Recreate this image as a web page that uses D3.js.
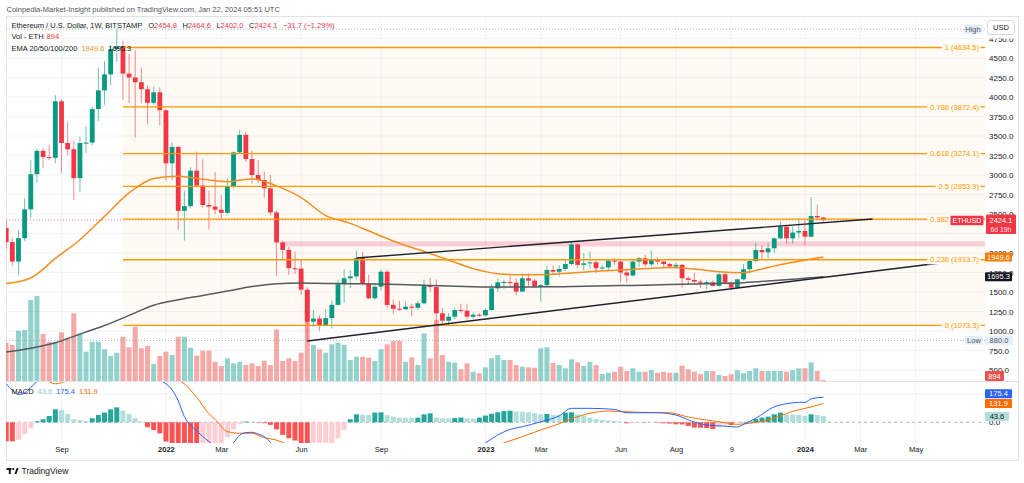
<!DOCTYPE html>
<html>
<head>
<meta charset="utf-8">
<title>ETHUSD 1W</title>
<script src="https://cdn.jsdelivr.net/npm/d3@7/dist/d3.min.js"></script>
<style>
  html, body { margin: 0; padding: 0; background: #ffffff; }
  svg { display: block; }
  text { font-family: "Liberation Sans", Arial, sans-serif; }
</style>
</head>
<body>
<svg id="chart" width="1024" height="483"></svg>
<script>
// ---------- data ----------
// weekly bars, the first one opens on Monday 2021-07-05
const FIRST_WEEK = "2021-07-05";

const opens = [
  2320, 2140, 1890, 2190, 2560, 3010, 3310, 3230, 3220, 3945,
  3410, 3330, 2960, 3410, 3415, 3845, 4085, 4290, 4615, 4650,
  4300, 4250, 4190, 4100, 3925, 4060, 3830, 3150, 3360, 2540,
  2600, 3055, 2865, 2615, 2595, 2555, 2515, 2850, 3290, 3515,
  3205, 3000, 2935, 2830, 2520, 2135, 2040, 1805, 1800, 1530,
  1120, 1160, 1075, 1165, 1335, 1600, 1676, 1700, 1935, 1605,
  1420, 1568, 1760, 1335, 1285, 1280, 1312, 1298, 1355, 1582,
  1565, 1227, 1132, 1183, 1269, 1260, 1183, 1209, 1200, 1269,
  1547, 1624, 1628, 1620, 1505, 1676, 1645, 1568, 1588, 1782,
  1760, 1795, 1858, 2110, 1848, 1868, 1880, 1805, 1815, 1902,
  1890, 1750, 1712, 1890, 1932, 1855, 1920, 1890, 1858, 1828,
  1848, 1676, 1655, 1633, 1620, 1626, 1578, 1727, 1620, 1556,
  1663, 1792, 1897, 2038, 2009, 2060, 2188, 2337, 2188, 2262,
  2282, 2209, 2474, 2454.8
];
const highs = [
  2410, 2190, 2290, 2700, 3190, 3335, 3340, 3385, 4025, 3970,
  3680, 3440, 3490, 3620, 3880, 4375, 4460, 4665, 4870, 4720,
  4550, 4600, 4380, 4150, 4130, 4120, 3840, 3420, 3370, 2800,
  3100, 3300, 3200, 2800, 3040, 2740, 2960, 3300, 3580, 3555,
  3310, 3190, 3040, 3000, 2540, 2160, 2080, 2020, 1920, 1560,
  1270, 1200, 1280, 1390, 1660, 1790, 1780, 2030, 2015, 1720,
  1620, 1790, 1790, 1400, 1390, 1380, 1350, 1380, 1660, 1680,
  1660, 1290, 1230, 1300, 1350, 1350, 1240, 1230, 1290, 1600,
  1670, 1660, 1710, 1680, 1740, 1740, 1670, 1600, 1840, 1840,
  1840, 1920, 2140, 2125, 2000, 2020, 1900, 1850, 1920, 1930,
  1900, 1780, 1920, 1950, 1980, 2030, 1945, 1895, 1880, 1880,
  1860, 1700, 1745, 1660, 1650, 1650, 1750, 1750, 1630, 1670,
  1860, 1910, 2130, 2100, 2130, 2200, 2402, 2340, 2340, 2445,
  2420, 2720, 2615, 2464.6
];
const lows = [
  2050, 1840, 1720, 2150, 2450, 2900, 3090, 3190, 3150, 3030,
  3250, 2680, 2780, 3280, 3380, 3690, 3900, 4150, 4450, 3960,
  3920, 3480, 3920, 3650, 3900, 3640, 2930, 2930, 2300, 2160,
  2580, 2850, 2580, 2300, 2500, 2440, 2500, 2830, 3270, 3170,
  2890, 2900, 2710, 2480, 1705, 1900, 1720, 1730, 1460, 880,
  1050, 1000, 1070, 1030, 1330, 1360, 1550, 1660, 1580, 1410,
  1400, 1520, 1290, 1220, 1260, 1270, 1190, 1270, 1340, 1500,
  1070, 1100, 1070, 1150, 1230, 1150, 1160, 1180, 1190, 1260,
  1500, 1540, 1560, 1460, 1500, 1580, 1550, 1377, 1560, 1720,
  1700, 1770, 1840, 1800, 1780, 1800, 1740, 1780, 1780, 1850,
  1630, 1620, 1700, 1820, 1820, 1830, 1850, 1820, 1800, 1800,
  1550, 1600, 1610, 1550, 1530, 1570, 1570, 1600, 1520, 1540,
  1650, 1740, 1880, 1930, 1930, 2000, 2180, 2120, 2120, 2190,
  2100, 2200, 2420, 2402.0
];
const closes = [
  2140, 1890, 2190, 2560, 3010, 3310, 3230, 3220, 3945, 3410,
  3330, 2960, 3410, 3415, 3845, 4085, 4290, 4615, 4650, 4300,
  4250, 4190, 4100, 3925, 4060, 3830, 3150, 3360, 2540, 2600,
  3055, 2865, 2615, 2595, 2555, 2515, 2850, 3290, 3515, 3205,
  3000, 2935, 2830, 2520, 2135, 2040, 1805, 1800, 1530, 1120,
  1160, 1075, 1165, 1335, 1600, 1676, 1700, 1935, 1605, 1420,
  1568, 1760, 1335, 1285, 1280, 1312, 1298, 1355, 1582, 1565,
  1227, 1132, 1183, 1269, 1260, 1183, 1209, 1200, 1269, 1547,
  1624, 1628, 1620, 1505, 1676, 1645, 1568, 1588, 1782, 1760,
  1795, 1858, 2110, 1848, 1868, 1880, 1805, 1815, 1902, 1890,
  1750, 1712, 1890, 1932, 1855, 1920, 1890, 1858, 1828, 1848,
  1676, 1655, 1633, 1620, 1626, 1578, 1727, 1620, 1556, 1663,
  1792, 1897, 2038, 2009, 2060, 2188, 2337, 2188, 2262, 2282,
  2209, 2474, 2455.8, 2424.1
];
// volume, thousands of ETH
const volumes = [
  199, 187, 262, 265, 421, 442, 244, 204, 204, 253,
  222, 352, 248, 152, 204, 204, 165, 130, 147, 230,
  175, 282, 170, 182, 88, 130, 152, 135, 230, 230,
  173, 132, 158, 158, 100, 78, 118, 92, 100, 83,
  92, 78, 106, 83, 268, 104, 118, 104, 147, 473,
  187, 165, 147, 191, 199, 187, 109, 126, 126, 121,
  104, 165, 191, 208, 208, 100, 123, 83, 248, 118,
  317, 135, 100, 95, 61, 92, 48, 40, 71, 118,
  135, 109, 109, 83, 74, 71, 69, 170, 175, 94,
  83, 66, 113, 97, 78, 100, 83, 36, 43, 48,
  74, 52, 66, 48, 48, 57, 43, 48, 43, 43,
  80, 61, 48, 36, 52, 52, 31, 26, 35, 57,
  40, 52, 66, 52, 52, 52, 52, 48, 57, 66,
  66, 97, 52, 0.894
];
// MACD histogram, one value per week
const macdHist = [
  -133, -133, -124, -82, -42, 7, 21, 44, 91, 86,
  58, 21, 16, 9, 28, 51, 68, 91, 105, 82,
  58, 28, 5, -35, -54, -77, -135, -165, -198, -215,
  -222, -222, -205, -190, -176, -150, -105, -50, -12, 5,
  4, -3, -6, -18, -50, -88, -112, -128, -150, -185,
  -175, -165, -150, -145, -112, -54, 21, 56, 54, 51,
  68, 70, 51, 40, 33, 33, 32, 33, 56, 63,
  33, 28, 27, 30, 33, 28, 26, 33, 47, 60,
  70, 79, 82, 75, 74, 70, 63, 56, 58, 51,
  50, 68, 70, 56, 44, 33, 23, 16, 12, 9,
  3, -7, -4, -2, -2, -1, -3, -7, -9, -14,
  -15, -26, -37, -38, -40, -47, -30, -17, -19, -5,
  3, 5, 23, 33, 40, 56, 68, 56, 55, 51,
  44, 56, 51, 43.6
];
// MACD line, read at these week indexes
const macdWeeks = [0, 1, 2, 3, 4, 6, 8, 12, 16, 20, 23, 25, 26, 27, 28, 29, 30, 31, 32, 33,
  35, 37, 38, 39, 40, 41, 42, 43, 44, 46, 48, 50, 52, 54, 56, 58, 60, 62, 64, 66,
  68, 70, 72, 74, 76, 78, 80, 82, 84, 87, 90, 92, 95, 99, 101, 106, 109, 112, 114, 117,
  119, 120, 122, 125, 127, 129, 130, 131, 133];
const macdValues = [270, 225, 195, 205, 245, 320, 360, 400, 430, 450, 380, 300, 270, 227, 150, 40, -20, -60, -100, -135,
  -185, -143, -90, -72, -70, -82, -100, -140, -175, -240, -290, -360, -380, -360, -330, -300, -300, -295, -300, -290,
  -255, -240, -235, -215, -185, -145, -89, -50, -31, 4, 45, 98, 98, 90, 67, 67, 51, 2, -19, -27,
  -33, -14, 28, 109, 130, 140, 140, 165, 175.4];
// signal line
const signalWeeks = [0, 2, 4, 6, 8, 10, 12, 16, 20, 24, 26, 27, 28, 29, 31, 33, 34, 36, 38, 40,
  42, 44, 46, 48, 50, 52, 54, 56, 58, 60, 62, 64, 66, 68, 70, 72, 74, 76, 78, 80,
  82, 84, 87, 90, 92, 95, 98, 103, 108, 111, 114, 117, 119, 121, 124, 128, 130, 131, 133];
const signalValues = [400, 320, 288, 298, 270, 300, 385, 365, 392, 385, 390, 350, 300, 270, 175, 60, 20, -65, -77, -77,
  -108, -125, -160, -200, -240, -290, -320, -340, -350, -355, -355, -345, -330, -310, -300, -265, -250, -215, -195, -160,
  -130, -101, -54, -10, 25, 63, 79, 70, 67, 37, 16, -3, -14, -7, 16, 76, 98, 108, 131.9];
// EMA lines, read every 4 weeks
const emaWeeks = [0, 4, 8, 12, 16, 20, 24, 28, 32, 36, 40, 44, 48, 52, 56, 60, 64, 68, 72, 76,
  80, 84, 88, 92, 96, 100, 104, 108, 112, 116, 120, 124, 128, 132, 133];
const emaOrange = [1610, 1680, 1930, 2170, 2470, 2770, 2955, 2985, 2945, 2915, 2950, 2860, 2710, 2480, 2380, 2250, 2125, 2020, 1910, 1800,
  1735, 1720, 1725, 1744, 1765, 1782, 1800, 1815, 1795, 1760, 1748, 1815, 1880, 1935, 1949.6];
const emaGray = [730, 780, 850, 960, 1070, 1200, 1330, 1400, 1455, 1512, 1570, 1605, 1615, 1610, 1606, 1602, 1595, 1585, 1576, 1568,
  1564, 1564, 1566, 1570, 1576, 1582, 1588, 1595, 1603, 1610, 1620, 1640, 1665, 1688, 1695.3];

// fibonacci retracement
const fibRatios = [0, 0.236, 0.382, 0.5, 0.618, 0.786, 1];
const fibPrices = [1073.3, 1913.7, 2433.7, 2853.9, 3274.1, 3872.4, 4634.5];
const fibStart = "2021-11-15";
// trend lines
const upperTrendDates = ["2022-08-08", "2024-03-18"];
const upperTrendPrices = [1936, 2436];
const lowerTrendDates = ["2022-06-13", "2024-06-03"];
const lowerTrendPrices = [872, 1872];
// pink zone
const zoneStart = "2022-05-13";
const zonePrices = [2085, 2150];
const highPrice = 4870;
const lowPrice = 880;

// axes (2250 sits fully under the price tag, so it carries no label)
const priceGrid = [4750, 4500, 4250, 4000, 3750, 3500, 3250, 3000, 2750, 2500, 2250, 2000, 1750, 1500, 1250, 1000, 750, 500];
const priceTicks = [4750, 4500, 4250, 4000, 3750, 3500, 3250, 3000, 2750, 2500, 2000, 1750, 1500, 1250, 1000, 750, 500];
const macdTicks = [0, 200];
const timeTickDates = ["2021-09-06", "2022-01-03", "2022-03-07", "2022-06-06", "2022-09-05", "2023-01-02",
  "2023-03-06", "2023-06-05", "2023-08-07", "2023-10-09", "2024-01-01", "2024-03-04", "2024-05-06"];
const timeTickLabels = ["Sep", "2022", "Mar", "Jun", "Sep", "2023", "Mar", "Jun", "Aug", "9", "2024", "Mar", "May"];

// ---------- layout ----------
const LEFT = 6, PLOT_RIGHT = 985, FRAME_RIGHT = 1018;
const TOP = 17, MAIN_BOTTOM = 381, MACD_TOP = 382, MACD_BOTTOM = 443, FRAME_BOTTOM = 461;

const UP = "#089981", DOWN = "#f23645";
const FIB = "#ff9800";
const TEXT = "#131722";

const parse = d3.utcParse("%Y-%m-%d");
const week0 = parse(FIRST_WEEK);
const last = opens.length - 1;
const weekDate = i => d3.utcDay.offset(week0, 7 * i);

const bars = opens.map((o, i) => ({
  i, date: weekDate(i), o, h: highs[i], l: lows[i], c: closes[i], v: volumes[i], up: closes[i] >= o
}));

const x = d3.scaleUtc().domain([week0, weekDate(last)]).range([6.2, 823.4]);
const y = d3.scaleLinear().domain([500, 4500]).range([370, 58]);
const yVol = d3.scaleLinear().domain([0, 520]).range([MAIN_BOTTOM, MAIN_BOTTOM - 100]);
const yMacd = d3.scaleLinear().domain([0, 175.4]).range([422.3, 397.3]);

const svg = d3.select("#chart");
svg.append("rect").attr("width", 1024).attr("height", 483).attr("fill", "#fff");

const defs = svg.append("defs");
defs.append("clipPath").attr("id", "mainClip").append("rect")
  .attr("x", LEFT).attr("y", TOP).attr("width", PLOT_RIGHT - LEFT).attr("height", MAIN_BOTTOM - TOP);
defs.append("clipPath").attr("id", "macdClip").append("rect")
  .attr("x", LEFT).attr("y", MACD_TOP).attr("width", PLOT_RIGHT - LEFT).attr("height", MACD_BOTTOM - MACD_TOP);

// header
svg.append("text").attr("x", 6.5).attr("y", 9).attr("dy", "0.35em")
  .attr("font-size", 7.5).attr("fill", "#50535e")
  .text("Coinpedia-Market-Insight published on TradingView.com, Jan 22, 2024 05:51 UTC");

// frame
svg.append("rect").attr("x", LEFT + 0.5).attr("y", TOP - 0.5)
  .attr("width", FRAME_RIGHT - LEFT).attr("height", FRAME_BOTTOM - TOP)
  .attr("fill", "none").attr("stroke", "#e0e3eb");

// grid
const grid = svg.append("g");
grid.selectAll("line.h").data(priceGrid).join("line")
  .attr("x1", LEFT).attr("x2", PLOT_RIGHT)
  .attr("y1", d => y(d)).attr("y2", d => y(d))
  .attr("stroke", "#f0f3fa");
grid.selectAll("line.v").data(timeTickDates).join("line")
  .attr("x1", d => x(parse(d))).attr("x2", d => x(parse(d)))
  .attr("y1", TOP).attr("y2", MACD_BOTTOM)
  .attr("stroke", "#f0f3fa");
grid.selectAll("line.m").data(macdTicks.slice(1)).join("line")
  .attr("x1", LEFT).attr("x2", PLOT_RIGHT)
  .attr("y1", d => yMacd(d)).attr("y2", d => yMacd(d))
  .attr("stroke", "#f0f3fa");

// ---------- main pane ----------
const main = svg.append("g").attr("clip-path", "url(#mainClip)");

// fib background
const fibX0 = x(parse(fibStart));
main.append("rect")
  .attr("x", fibX0).attr("y", y(d3.max(fibPrices)))
  .attr("width", PLOT_RIGHT - fibX0).attr("height", y(d3.min(fibPrices)) - y(d3.max(fibPrices)))
  .attr("fill", FIB).attr("fill-opacity", 0.045);

// volume
main.append("g").selectAll("rect").data(bars).join("rect")
  .attr("x", d => x(d.date) - 2.5).attr("width", 5)
  .attr("y", d => Math.min(yVol(d.v), MAIN_BOTTOM - 1))
  .attr("height", d => Math.max(1, MAIN_BOTTOM - yVol(d.v)))
  .attr("fill", d => d.up ? "rgba(38,166,154,0.5)" : "rgba(239,83,80,0.5)");

// pink zone
const zx0 = x(parse(zoneStart));
main.append("rect")
  .attr("x", zx0).attr("y", y(zonePrices[1]))
  .attr("width", PLOT_RIGHT - zx0).attr("height", y(zonePrices[0]) - y(zonePrices[1]))
  .attr("fill", "rgba(233,30,99,0.2)");

// high / low dotted lines
main.selectAll("line.hl").data([highPrice, lowPrice]).join("line")
  .attr("x1", LEFT).attr("x2", PLOT_RIGHT)
  .attr("y1", d => y(d)).attr("y2", d => y(d))
  .attr("stroke", "#9598a1").attr("stroke-dasharray", "1,2").attr("stroke-width", 0.8);

// current price line
main.append("line")
  .attr("x1", LEFT).attr("x2", PLOT_RIGHT)
  .attr("y1", y(closes[last])).attr("y2", y(closes[last]))
  .attr("stroke", DOWN).attr("stroke-opacity", 0.7).attr("stroke-dasharray", "1,2");

// candles
const candles = main.append("g").selectAll("g").data(bars).join("g");
candles.append("line")
  .attr("x1", d => x(d.date)).attr("x2", d => x(d.date))
  .attr("y1", d => y(d.h)).attr("y2", d => y(d.l))
  .attr("stroke", d => d.up ? UP : DOWN).attr("stroke-opacity", 0.6);
candles.append("rect")
  .attr("x", d => x(d.date) - 2.4).attr("width", 4.8)
  .attr("y", d => y(Math.max(d.o, d.c)))
  .attr("height", d => Math.max(1, Math.abs(y(d.o) - y(d.c))))
  .attr("fill", d => d.up ? UP : DOWN);

// EMA lines
const emaLine = d3.line().x(d => x(weekDate(d[0]))).y(d => y(d[1])).curve(d3.curveMonotoneX);
main.append("path").datum(d3.zip(emaWeeks, emaGray)).attr("d", emaLine)
  .attr("fill", "none").attr("stroke", "#555a62").attr("stroke-width", 1.5);
main.append("path").datum(d3.zip(emaWeeks, emaOrange)).attr("d", emaLine)
  .attr("fill", "none").attr("stroke", "#f68d1f").attr("stroke-width", 1.5);

// fib lines
const fibG = main.append("g");
fibG.selectAll("line").data(fibPrices).join("line")
  .attr("x1", fibX0).attr("x2", PLOT_RIGHT)
  .attr("y1", d => y(d)).attr("y2", d => y(d))
  .attr("stroke", FIB).attr("stroke-width", 1.3);

// trend lines
const trendLine = d3.line().x(d => x(parse(d[0]))).y(d => y(d[1]));
[[upperTrendDates, upperTrendPrices], [lowerTrendDates, lowerTrendPrices]].forEach(([ds, ps]) => {
  main.append("path").datum(d3.zip(ds, ps)).attr("d", trendLine)
    .attr("fill", "none").attr("stroke", "#1e222d").attr("stroke-width", 1.4);
});

// fib labels
const fibLabels = main.append("g");
fibPrices.forEach((p, k) => {
  const t = fibLabels.append("text")
    .attr("x", 979).attr("y", y(p)).attr("dy", "0.35em")
    .attr("text-anchor", "end").attr("font-size", 7.5).attr("fill", FIB)
    .text(`${fibRatios[k]} (${p.toFixed(1)})`);
  const bb = t.node().getBBox();
  fibLabels.insert("rect", "text")
    .attr("x", bb.x - 3).attr("y", bb.y).attr("width", bb.width + 4).attr("height", bb.height)
    .attr("fill", "#fffaf4");
});

// legend
const fmt = d3.format(".1f");
const change = closes[last] - closes[last - 1];
const legend = svg.append("g").attr("font-size", 7.5);
const l1 = legend.append("text").attr("x", 11.5).attr("y", 25).attr("dy", "0.35em").attr("fill", TEXT);
l1.append("tspan").text("Ethereum / U.S. Dollar, 1W, BITSTAMP");
[["O", opens[last]], ["H", highs[last]], ["L", lows[last]], ["C", closes[last]]].forEach(([k, v], j) => {
  l1.append("tspan").attr("dx", j === 0 ? 6 : 5.5).text(k);
  l1.append("tspan").attr("fill", DOWN).text(fmt(v));
});
l1.append("tspan").attr("dx", 5.5).attr("fill", DOWN)
  .text(`${fmt(change)} (${d3.format(".2f")(change / closes[last - 1] * 100)}%)`);

const l2 = legend.append("text").attr("x", 11.5).attr("y", 36.5).attr("dy", "0.35em").attr("fill", TEXT);
l2.append("tspan").text("Vol - ETH");
l2.append("tspan").attr("dx", 3).attr("fill", DOWN).text(d3.format(".0f")(volumes[last] * 1000));

const l3 = legend.append("text").attr("x", 11.5).attr("y", 48).attr("dy", "0.35em").attr("fill", TEXT);
l3.append("tspan").text("EMA 20/50/100/200");
l3.append("tspan").attr("dx", 4).attr("fill", "#f68d1f").text(fmt(emaOrange[emaOrange.length - 1]));
l3.append("tspan").attr("dx", 4).text(fmt(emaGray[emaGray.length - 1]));

// pane separator
svg.append("line").attr("x1", LEFT).attr("x2", FRAME_RIGHT)
  .attr("y1", MAIN_BOTTOM + 0.5).attr("y2", MAIN_BOTTOM + 0.5).attr("stroke", "#e0e3eb");

// ---------- MACD pane ----------
const macdG = svg.append("g").attr("clip-path", "url(#macdClip)");
macdG.append("line")
  .attr("x1", LEFT).attr("x2", PLOT_RIGHT).attr("y1", yMacd(0)).attr("y2", yMacd(0))
  .attr("stroke", "#b2b5be").attr("stroke-dasharray", "3,3");
const histColor = (v, i) => {
  const rising = i > 0 ? v > macdHist[i - 1] : v > 0;
  if (v >= 0) return rising ? "#26a69a" : "#b2dfdb";
  return rising ? "#ffcdd2" : "#ff5252";
};
macdG.append("g").selectAll("rect").data(macdHist).join("rect")
  .attr("x", (v, i) => x(weekDate(i)) - 2.5).attr("width", 5)
  .attr("y", v => Math.min(yMacd(v), yMacd(0)))
  .attr("height", v => Math.abs(yMacd(v) - yMacd(0)))
  .attr("fill", histColor);
const macdLine = d3.line().x(d => x(weekDate(d[0]))).y(d => yMacd(d[1])).curve(d3.curveMonotoneX);
macdG.append("path").datum(d3.zip(signalWeeks, signalValues)).attr("d", macdLine)
  .attr("fill", "none").attr("stroke", "#ff6d00").attr("stroke-width", 1);
macdG.append("path").datum(d3.zip(macdWeeks, macdValues)).attr("d", macdLine)
  .attr("fill", "none").attr("stroke", "#2962ff").attr("stroke-width", 1);

const ml = svg.append("text").attr("x", 11.5).attr("y", 391).attr("dy", "0.35em")
  .attr("font-size", 7.5).attr("fill", TEXT);
ml.append("tspan").text("MACD");
ml.append("tspan").attr("dx", 4).attr("fill", "#8fd0c8").text(fmt(macdHist[last]));
ml.append("tspan").attr("dx", 4).attr("fill", "#2962ff").text(fmt(macdValues[macdValues.length - 1]));
ml.append("tspan").attr("dx", 4).attr("fill", "#ff6d00").text(fmt(signalValues[signalValues.length - 1]));

// ---------- axes ----------
const yAxis = d3.axisRight(y).tickValues(priceTicks).tickSize(0).tickPadding(4).tickFormat(d3.format(".1f"));
const yAxisG = svg.append("g").attr("transform", `translate(${PLOT_RIGHT},0)`).call(yAxis);
yAxisG.select(".domain").remove();
yAxisG.selectAll("text").attr("font-size", 8).attr("fill", TEXT).attr("font-family", null);

const mAxis = d3.axisRight(yMacd).tickValues(macdTicks).tickSize(0).tickPadding(4).tickFormat(d3.format(".1f"));
const mAxisG = svg.append("g").attr("transform", `translate(${PLOT_RIGHT},0)`).call(mAxis);
mAxisG.select(".domain").remove();
mAxisG.selectAll("text").attr("font-size", 8).attr("fill", TEXT).attr("font-family", null);

const xAxis = d3.axisBottom(x).tickValues(timeTickDates.map(parse)).tickSize(0).tickPadding(4)
  .tickFormat((d, i) => timeTickLabels[i]);
const xAxisG = svg.append("g").attr("transform", `translate(0,${MACD_BOTTOM})`).call(xAxis);
xAxisG.select(".domain").remove();
xAxisG.selectAll("text").attr("font-size", 7.5).attr("fill", TEXT).attr("font-family", null)
  .attr("font-weight", (d, i) => /^\d{4}$/.test(timeTickLabels[i]) ? "bold" : "normal");

// ---------- tags ----------
function tag(x0, yc, w, h, fill, label, color, size) {
  const g = svg.append("g");
  g.append("rect").attr("x", x0).attr("y", yc - h / 2).attr("width", w).attr("height", h)
    .attr("fill", fill).attr("rx", 1);
  g.append("text").attr("x", x0 + w / 2).attr("y", yc).attr("dy", "0.35em")
    .attr("text-anchor", "middle").attr("font-size", size || 7.5).attr("fill", color).text(label);
  return g;
}
// price tag with countdown
const py = y(closes[last]);
svg.append("rect").attr("x", 986).attr("y", py - 5.5).attr("width", 30).attr("height", 19.5)
  .attr("fill", DOWN).attr("rx", 1);
svg.append("text").attr("x", 1001).attr("y", py).attr("dy", "0.35em").attr("text-anchor", "middle")
  .attr("font-size", 7.5).attr("fill", "#fff").text(fmt(closes[last]));
svg.append("text").attr("x", 1001).attr("y", py + 9.2).attr("dy", "0.35em").attr("text-anchor", "middle")
  .attr("font-size", 6.8).attr("fill", "#fde3e5").text("6d 19h");
tag(950.5, py + 0.6, 33, 9.5, DOWN, "ETHUSD", "#fff", 7);

tag(985, y(emaOrange[emaOrange.length - 1]), 27, 9, "#f57c00", fmt(emaOrange[emaOrange.length - 1]), "#fff");
tag(985, y(emaGray[emaGray.length - 1]), 27, 9, "#131722", fmt(emaGray[emaGray.length - 1]), "#fff");
tag(965, y(lowPrice), 18, 9, "#e3effd", "Low", "#50535e");
tag(985, y(lowPrice), 28, 9, "#e3effd", fmt(lowPrice), "#50535e");
tag(964, y(highPrice), 18, 9, "#e3effd", "High", "#50535e");
tag(985, 376, 19, 10, "#ef5350", d3.format(".0f")(volumes[last] * 1000), "#fff");
tag(985, yMacd(macdValues[macdValues.length - 1]) - 3.5, 27, 9, "#2962ff", fmt(macdValues[macdValues.length - 1]), "#fff");
tag(985, yMacd(signalValues[signalValues.length - 1]), 27, 9, "#ff6d00", fmt(signalValues[signalValues.length - 1]), "#fff");
tag(985, yMacd(macdHist[last]) + 0.5, 24, 9, "#b2dfdb", fmt(macdHist[last]), TEXT);

// USD button (covers the upper half of the top axis label, as on the original)
svg.append("rect").attr("x", 986).attr("y", 18).attr("width", 31).attr("height", 20.5).attr("fill", "#fff");
svg.append("rect").attr("x", 987.5).attr("y", 20.5).attr("width", 27).attr("height", 14)
  .attr("fill", "#fff").attr("stroke", "#d1d4dc").attr("rx", 3);
svg.append("text").attr("x", 1001).attr("y", 27.5).attr("dy", "0.35em").attr("text-anchor", "middle")
  .attr("font-size", 7.5).attr("fill", TEXT).text("USD");

// TradingView mark
const logo = svg.append("g").attr("fill", TEXT);
logo.append("rect").attr("x", 6.5).attr("y", 468).attr("width", 5).attr("height", 2);
logo.append("rect").attr("x", 8.8).attr("y", 468).attr("width", 2).attr("height", 6);
logo.append("circle").attr("cx", 13.3).attr("cy", 469).attr("r", 1.1);
logo.append("path").attr("d", "M14.5,474 L16.6,468 L18.6,468 L16.5,474 Z");
svg.append("text").attr("x", 21.5).attr("y", 471.5).attr("dy", "0.35em")
  .attr("font-size", 8.5).attr("fill", TEXT).text("TradingView");
</script>
</body>
</html>
